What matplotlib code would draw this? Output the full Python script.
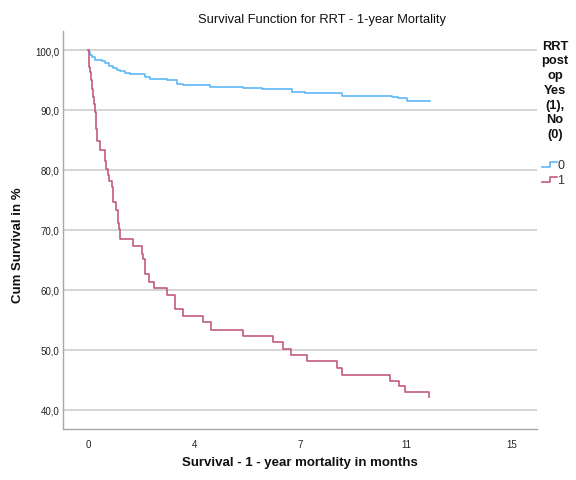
import matplotlib
matplotlib.use("Agg")
import matplotlib.pyplot as plt
from matplotlib.lines import Line2D

# ---- data ----
# group 0 (RRT post op: No)
t0 = [0.0, 0.02, 0.07, 0.14, 0.25, 0.48, 0.60, 0.74, 0.90, 1.03, 1.13, 1.31, 1.49,
      2.02, 2.19, 2.78, 3.14, 3.37, 4.32, 5.49, 6.15, 7.20, 7.68, 8.97, 10.74,
      10.98, 11.27, 12.10]
s0 = [100.0, 99.6, 99.2, 98.8, 98.4, 98.2, 97.8, 97.4, 97.0, 96.7, 96.45, 96.2, 96.05,
      95.5, 95.2, 94.95, 94.4, 94.1, 93.8, 93.7, 93.5, 92.95, 92.8, 92.4, 92.1,
      91.95, 91.55, 91.55]
# group 1 (RRT post op: Yes)
t1 = [0.0, 0.018, 0.035, 0.053, 0.071, 0.106, 0.141, 0.177, 0.212, 0.248, 0.27,
      0.29, 0.31, 0.424, 0.60, 0.65, 0.70, 0.75, 0.84, 0.87, 0.895, 0.98, 1.05,
      1.10, 1.14, 1.58, 1.90, 1.96, 2.01, 2.03, 2.17, 2.33, 2.81, 3.08, 3.37,
      4.06, 4.34, 5.48, 6.54, 6.91, 7.18, 7.74, 8.80, 8.97, 10.68, 11.00, 11.21,
      12.07]
s1 = [100.0, 99.0, 98.0, 97.2, 96.3, 95.0, 93.5, 92.2, 91.0, 89.7, 88.3,
      86.8, 84.8, 83.4, 81.5, 80.2, 79.2, 78.2, 77.2, 76.0, 74.7, 73.4, 71.2,
      70.2, 68.5, 67.3, 66.0, 65.2, 64.0, 62.7, 61.4, 60.3, 59.2, 56.8, 55.6,
      54.6, 53.4, 52.3, 51.3, 50.2, 49.1, 48.1, 47.0, 45.9, 44.9, 44.0, 43.0,
      42.1]

xticks = [0, 3.75, 7.5, 11.25, 15]
xticklabels = ["0", "4", "7", "11", "15"]
yticks = [40, 50, 60, 70, 80, 90, 100]
yticklabels = ["40,0", "50,0", "60,0", "70,0", "80,0", "90,0", "100,0"]
legend_title = ["RRT", "post", "op", "Yes", "(1),", "No", "(0)"]
groups = ["0", "1"]
colors = ["#5EB9F8", "#C45A80"]

plt.rcParams['font.family'] = ['Liberation Sans', 'DejaVu Sans']

W, H = 576, 481
fig = plt.figure(figsize=(W / 100, H / 100), dpi=100)
ax = fig.add_axes([63 / W, (H - 430) / H, 474 / W, 398 / H])

ax.step(t0, s0, where='post', color=colors[0], lw=1.2, zorder=3)
ax.step(t1, s1, where='post', color=colors[1], lw=1.2, zorder=3)

ax.set_xlim((63 - 88) / 28.27, (537 - 88) / 28.27)
ax.set_ylim(100 - (430 - 51) / 6, 100 + (51 - 32) / 6)

ax.set_xticks(xticks)
ax.set_xticklabels(xticklabels)
ax.set_yticks(yticks)
ax.set_yticklabels(yticklabels)
ax.tick_params(axis='both', length=0, labelsize=7, colors='#222222')
ax.tick_params(axis='y', pad=2.5)
ax.tick_params(axis='x', pad=7)

ax.yaxis.grid(True, color='#d4d4d4', lw=1.4, zorder=0)
ax.set_axisbelow(True)
for side in ['top', 'right']:
    ax.spines[side].set_visible(False)
for side in ['left', 'bottom']:
    ax.spines[side].set_color('#a8a8a8')
    ax.spines[side].set_linewidth(1.0)

fig.text(322 / W, 1 - 20 / H, "Survival Function for RRT - 1-year Mortality",
         ha='center', va='center', fontsize=9.3, color='#111111')
fig.text(18 / W, 1 - 245 / H, "Cum Survival in %", rotation=90,
         ha='center', va='center', fontsize=9.5, fontweight='bold', color='#111111')
fig.text(300 / W, 1 - 463 / H, "Survival - 1 - year mortality in months",
         ha='center', va='center', fontsize=9.5, fontweight='bold', color='#111111')

# legend block
for i, line in enumerate(legend_title):
    y = 46.7 + i * 14.7
    fig.text(555 / W, 1 - y / H, line, ha='center', va='center',
             fontsize=9.3, fontweight='bold', color='#111111')

for i, (g, c) in enumerate(zip(groups, colors)):
    ylow = 168.3 + i * 15
    yhigh = ylow - 5
    xs = [541.7 / W, 550 / W, 550 / W, 556.5 / W]
    ys = [1 - ylow / H, 1 - ylow / H, 1 - yhigh / H, 1 - yhigh / H]
    fig.add_artist(Line2D(xs, ys, color=c, lw=1.2, transform=fig.transFigure))
    fig.text(557.5 / W, 1 - (ylow - 2.5) / H, g, ha='left', va='center',
             fontsize=9, color='#333333')

fig.savefig("out.png", dpi=100)
